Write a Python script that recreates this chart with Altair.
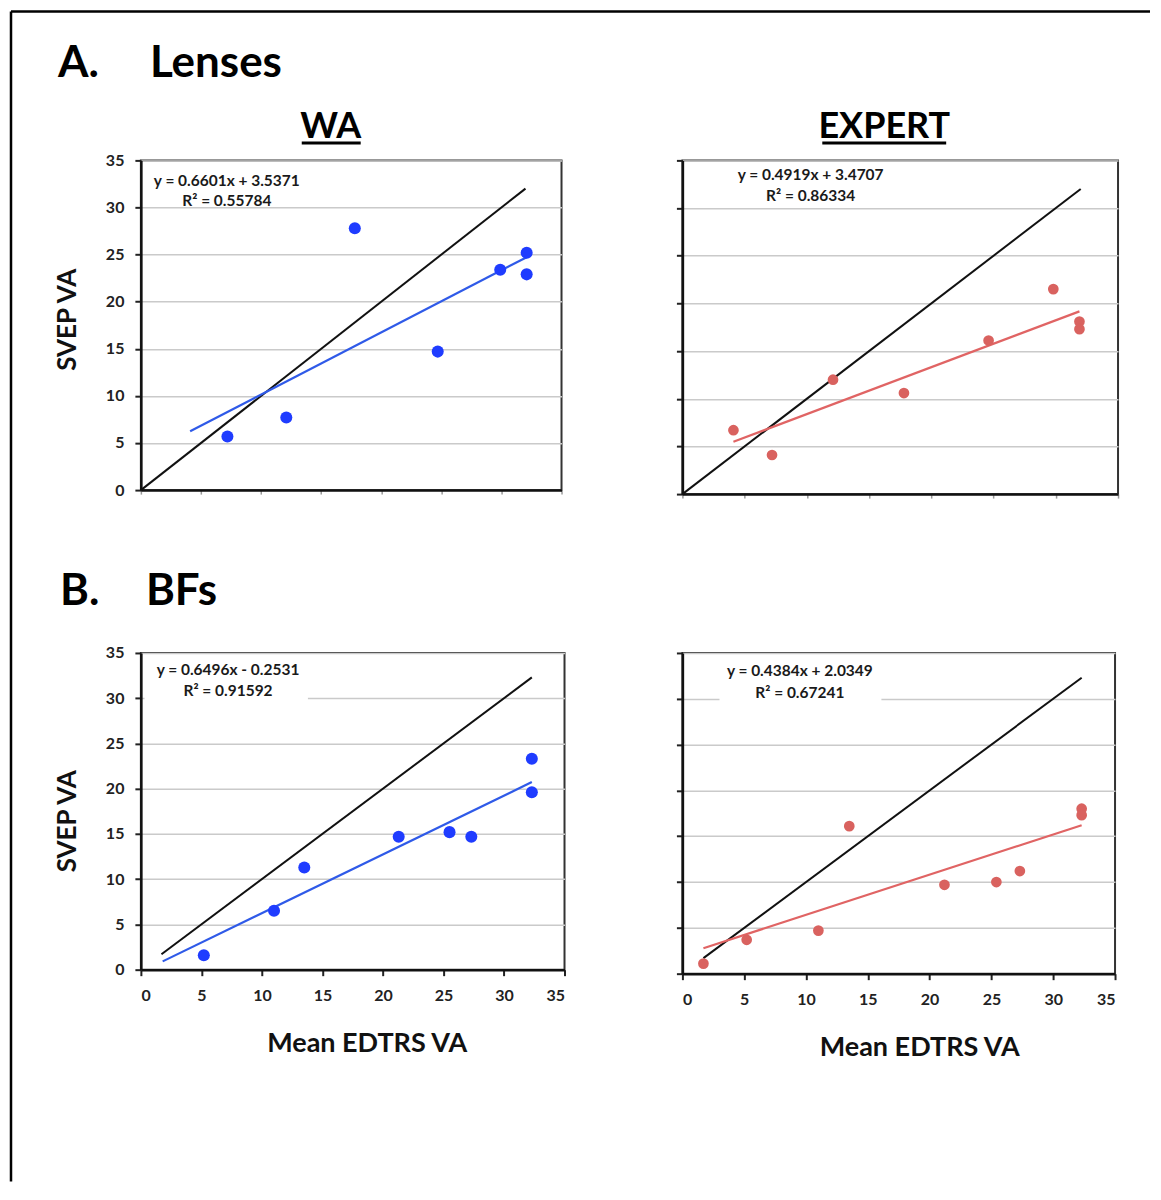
import altair as alt
import pandas as pd

FONT = "Lato"

# ---------------- data ----------------
# A. Lenses - WA
a_wa_x = [7.2, 12.1, 17.8, 24.7, 29.9, 32.1, 32.1]
a_wa_y = [5.7, 7.7, 27.8, 14.7, 23.4, 25.2, 22.9]
# A. Lenses - EXPERT
a_ex_x = [4.1, 7.2, 12.1, 17.8, 24.6, 29.8, 31.9, 31.9]
a_ex_y = [6.7, 4.1, 12.0, 10.6, 16.1, 21.5, 18.1, 17.3]
# B. BFs - WA
b_wa_x = [5.2, 11.0, 13.5, 21.3, 25.5, 27.3, 32.3, 32.3]
b_wa_y = [1.6, 6.5, 11.3, 14.7, 15.2, 14.7, 23.3, 19.6]
# B. BFs - EXPERT
b_ex_x = [1.7, 5.2, 11.0, 13.5, 21.2, 25.4, 27.3, 32.3, 32.3]
b_ex_y = [1.1, 3.7, 4.7, 16.1, 9.7, 10.0, 11.2, 18.0, 17.3]

# regression (as printed) and x-range of each trendline
slopes = [0.6601, 0.4919, 0.6496, 0.4384]
intercepts = [3.5371, 3.4707, -0.2531, 2.0349]
trend_x0 = [4.1, 4.1, 1.8, 1.7]
trend_x1 = [32.1, 31.9, 32.3, 32.3]
# identity (y = x) line extents
ident_x0 = [0.0, 0.0, 1.7, 1.7]
ident_x1 = [32.0, 32.0, 32.3, 32.3]

eq_line1 = ["y = 0.6601x + 3.5371", "y = 0.4919x + 3.4707",
            "y = 0.6496x - 0.2531", "y = 0.4384x + 2.0349"]
eq_line2 = ["R\u00b2 = 0.55784", "R\u00b2 = 0.86334",
            "R\u00b2 = 0.91592", "R\u00b2 = 0.67241"]
eq_x = [7.15, 10.3, 7.2, 9.5]
eq_y1 = [32.3, 32.9, 32.6, 32.5]
eq_y2 = [30.2, 30.7, 30.2, 30.1]
# white label boxes (bottom row only)
box_x = [None, None, 0.3, 3.0]
box_x2 = [None, None, 13.8, 16.1]
box_y = [None, None, 29.0, 29.0]
box_y2 = [None, None, 34.5, 34.5]

ticks = [0, 5, 10, 15, 20, 25, 30, 35]

BLUE_PT = "#1f3cff"
BLUE_LN = "#2f5ae8"
RED_PT = "#d9625f"
RED_LN = "#e06464"


def panel(i, xs, ys, pt_color, ln_color, xlabels, ylabels, pt_size,
          x_title_x=None, y_title_y=None):
    if xlabels:
        x_axis = alt.Axis(values=ticks, labels=True, grid=False,
                          title="Mean EDTRS VA", labelPadding=12, titlePadding=27,
                          titleFontSize=27, titleX=x_title_x)
    else:
        x_axis = alt.Axis(values=ticks, labels=False, grid=False, title=None,
                          tickColor="#999", tickSize=4, tickWidth=1.5)
    if ylabels:
        y_axis = alt.Axis(values=ticks, labels=True, grid=True, title="SVEP VA",
                          labelPadding=11, titlePadding=25, titleY=y_title_y)
    else:
        y_axis = alt.Axis(values=ticks, labels=False, grid=True, title=None)
    xe = alt.X("x:Q", scale=alt.Scale(domain=[0, 35], nice=False, zero=False), axis=x_axis)
    ye = alt.Y("y:Q", scale=alt.Scale(domain=[0, 35], nice=False, zero=False), axis=y_axis)

    pts = pd.DataFrame({"x": xs, "y": ys})
    m, b = slopes[i], intercepts[i]
    trend = pd.DataFrame({"x": [trend_x0[i], trend_x1[i]],
                          "y": [m * trend_x0[i] + b, m * trend_x1[i] + b]})
    ident = pd.DataFrame({"x": [ident_x0[i], ident_x1[i]],
                          "y": [ident_x0[i], ident_x1[i]]})
    eqs = pd.DataFrame({"x": [eq_x[i], eq_x[i]], "y": [eq_y1[i], eq_y2[i]],
                        "t": [eq_line1[i], eq_line2[i]]})

    layers = []
    if box_x[i] is not None:
        bx = pd.DataFrame({"x": [box_x[i]], "x2": [box_x2[i]],
                           "y": [box_y[i]], "y2": [box_y2[i]]})
        layers.append(alt.Chart(bx).mark_rect(color="white").encode(
            x=xe, x2="x2:Q", y=ye, y2="y2:Q"))
    layers.append(alt.Chart(ident).mark_line(color="#111", strokeWidth=2).encode(x=xe, y=ye))
    layers.append(alt.Chart(trend).mark_line(color=ln_color, strokeWidth=2.2).encode(x=xe, y=ye))
    layers.append(alt.Chart(pts).mark_circle(color=pt_color, size=pt_size, opacity=1).encode(x=xe, y=ye))
    layers.append(alt.Chart(eqs).mark_text(font=FONT, fontSize=15.5, fontWeight="bold",
                                           color="#1a1a1a", align="center",
                                           baseline="alphabetic").encode(x=xe, y=ye, text="t:N"))
    return layers


def pix_text(txt, x, y, size, align="left"):
    return alt.Chart(pd.DataFrame({"a": [0]})).mark_text(
        text=txt, font=FONT, fontSize=size, fontWeight="bold", color="#000",
        align=align, baseline="alphabetic").encode(x=alt.value(x), y=alt.value(y))


def pix_rule(x, x2, y, y2=None, w=2.5):
    enc = dict(x=alt.value(x), y=alt.value(y))
    if x2 is not None:
        enc["x2"] = alt.value(x2)
    if y2 is not None:
        enc["y2"] = alt.value(y2)
    return alt.Chart(pd.DataFrame({"a": [0]})).mark_rule(color="#000", strokeWidth=w).encode(**enc)


# top-left: A / WA
tl_layers = panel(0, a_wa_x, a_wa_y, BLUE_PT, BLUE_LN, False, True, 145, y_title_y=159)
tl_layers += [
    pix_rule(-130, None, -149, 1022),          # frame left
    pix_rule(-130, 1010, -149),                # frame top
    pix_text("A.", -83, -83, 44),
    pix_text("Lenses", 9, -83, 44),
    pix_text("WA", 190, -22, 36, "center"),
    pix_rule(161, 220, -17.5, None, 3),
]
tl = alt.layer(*tl_layers).properties(width=421, height=330)

tr_layers = panel(1, a_ex_x, a_ex_y, RED_PT, RED_LN, False, False, 115)
tr_layers += [
    pix_text("EXPERT", 202, -22, 36, "center"),
    pix_rule(140, 264, -17.5, None, 3),
]
tr = alt.layer(*tr_layers).properties(width=436, height=334)

bl_layers = panel(2, b_wa_x, b_wa_y, BLUE_PT, BLUE_LN, True, True, 145,
                  x_title_x=226, y_title_y=168)
bl_layers += [
    pix_text("B.", -81, -48, 44),
    pix_text("BFs", 5, -48, 44),
]
bl = alt.layer(*bl_layers).properties(width=424, height=317)

br_layers = panel(3, b_ex_x, b_ex_y, RED_PT, RED_LN, True, False, 115, x_title_x=237)
br = alt.layer(*br_layers).properties(width=433, height=321)

chart = alt.concat(
    tl, tr, bl, br, columns=2,
    spacing={"row": 159, "column": 118},
    bounds="flush", align="each",
).properties(padding=0, background="white").configure_view(
    stroke="#333", strokeWidth=2
).configure_axis(
    domainColor="#111", domainWidth=2.5,
    tickColor="#222", tickWidth=2, tickSize=6,
    gridColor="#cacaca", gridWidth=1.5,
    labelFont=FONT, labelFontWeight="bold", labelFontSize=16, labelColor="#222",
    titleFont=FONT, titleFontWeight="bold", titleFontSize=26, titleColor="#111",
)

chart.save("out.html", embed_options={"renderer": "svg", "actions": False})
